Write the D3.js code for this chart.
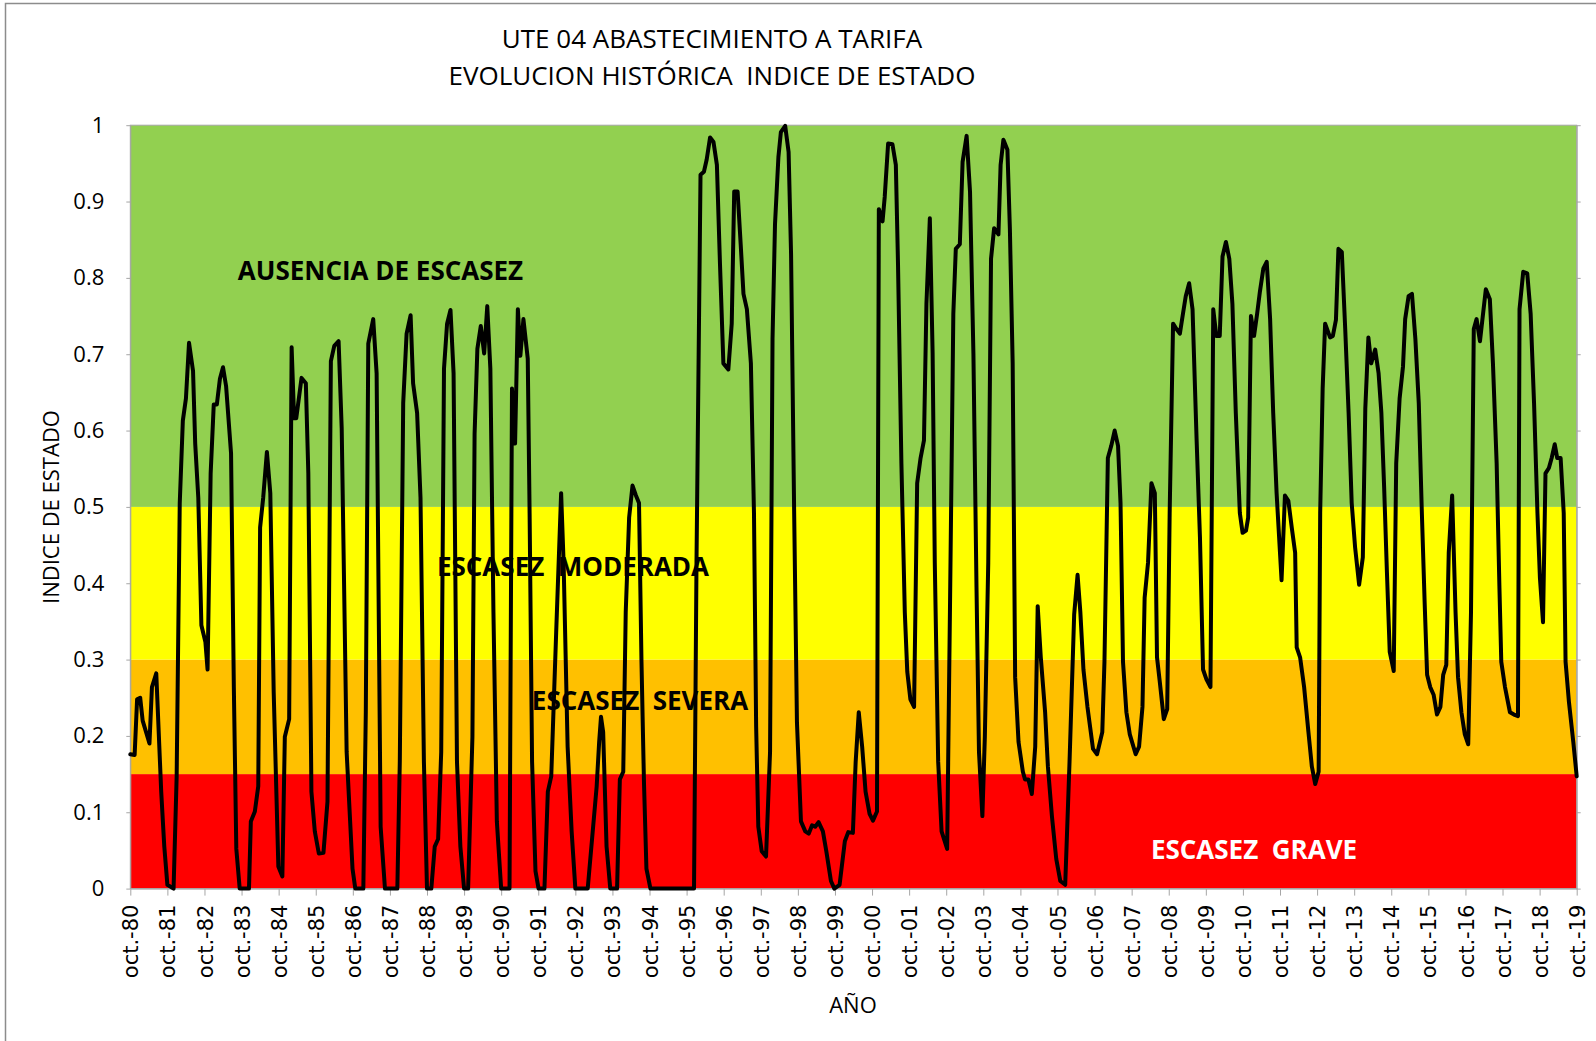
<!DOCTYPE html>
<html>
<head>
<meta charset="utf-8">
<script src="https://cdn.jsdelivr.net/npm/d3@7"></script>
<style>
  body { margin: 0; background: #fff; }
  text { white-space: pre; }
</style>
</head>
<body>
<svg id="chart" width="1596" height="1041"></svg>
<script>
// ---------------- DATA ----------------
const titleLines = ["UTE 04 ABASTECIMIENTO A TARIFA", "EVOLUCION HISTÓRICA  INDICE DE ESTADO"];
const yAxisTitle = "INDICE DE ESTADO";
const xAxisTitle = "AÑO";

const tickLabels = ["oct.-80","oct.-81","oct.-82","oct.-83","oct.-84","oct.-85","oct.-86","oct.-87","oct.-88","oct.-89",
  "oct.-90","oct.-91","oct.-92","oct.-93","oct.-94","oct.-95","oct.-96","oct.-97","oct.-98","oct.-99",
  "oct.-00","oct.-01","oct.-02","oct.-03","oct.-04","oct.-05","oct.-06","oct.-07","oct.-08","oct.-09",
  "oct.-10","oct.-11","oct.-12","oct.-13","oct.-14","oct.-15","oct.-16","oct.-17","oct.-18","oct.-19"];

const yTickValues = [0, 0.1, 0.2, 0.3, 0.4, 0.5, 0.6, 0.7, 0.8, 0.9, 1];

const bandLower = [0, 0.15, 0.3, 0.5];
const bandUpper = [0.15, 0.3, 0.5, 1];
const bandColors = ["#FF0000", "#FFC000", "#FFFF00", "#92D050"];
const bandNames = ["ESCASEZ  GRAVE", "ESCASEZ  SEVERA", "ESCASEZ  MODERADA", "AUSENCIA DE ESCASEZ"];

// months elapsed since oct-1980
const monthOffsets = [
  0,1.4,2.2,3.2,4,6.2,7,8.4,10,11,12,14,15,16,17,18,19,20.3,21,22,23,24.3,25,26,27,28,29,30,31,32.6,33.5,34.3,35.4,38.4,
  39,40.3,41.4,42,43,44.2,45.3,46.4,47.9,49.2,50,51.4,52.2,53,53.7,55.4,56.8,57.6,58.6,59.7,61,62.5,63.8,64.9,66,67.4,68.4,
  70,71.9,72.8,75.4,76.2,77,78.6,
  79.7,81,82.4,86.4,87.2,88.3,89.4,90.7,91.5,92.8,93.9,95,96,97.4,98.5,99.6,100.6,101.5,102.5,103.6,104.6,105.7,106.8,108,
  109.3,110.7,111.4,112.3,113.4,114.5,115.5,116.5,117.5,118.6,120,122.7,123.5,124.5,125.4,126.2,127.2,128.6,129.2,130,
  131.1,132.1,134,135.1,136.2,137.8,139.4,140.2,141.5,142.8,144,148,150.9,151.7,152.3,153,154.1,155.3,
  157.5,158.4,159.5,160.3,161.4,162.5,163.6,164.6,165.4,166.2,167,168.3,182.4,183.2,184.5,185.6,186.5,187.6,188.7,189.8,
  190.8,191.9,193.5,194.6,195.4,196.5,197.5,198.4,199.5,200.8,201.8,202.5,203.2,204.3,205.7,207,207.8,208.6,209.7,210.5,
  211.9,213,213.8,214.8,215.7,217,218.4,219.5,220.6,221.6,222.7,224.1,225.2,226.7,227.8,229.5,231.2,
  232.3,233.8,234.7,235.7,236.8,237.9,239.2,240.3,241.6,242.2,243.4,244.1,245.2,246.6,247.7,248.4,249.5,250.6,251.4,252.4,
  253.6,254.6,255.7,256.8,257.6,258.7,259.6,260.3,261.4,262.5,264.3,265.2,266.3,267.1,268.4,269.3,270.6,271.7,272.8,273.8,
  274.6,275.7,276.5,277.6,278.5,279.5,280.9,281.6,282.5,283.8,284.6,285.5,286.3,287.4,288.8,289.5,290.6,291.7,292.8,293.6,
  294.6,296,296.9,298.2,299.6,300.9,302.5,303.9,305.4,306.5,307.4,308.4,309.7,311.5,312.8,
  314.5,315.2,316.3,317.4,318.5,319.6,320.4,321.2,322.3,323.4,325.3,326.4,327.5,328.2,329.3,330.4,331.5,332.2,333.1,334.4,
  335.5,336.3,337.4,338.5,339.6,340.6,341.5,342.6,343.7,345,346.1,347.1,348.2,349.5,350.4,351.4,352.5,353.4,354.5,355.6,
  356.6,357.7,359,359.9,361,361.7,362.6,363.6,364.6,365.5,366.6,367.7,368.8,369.8,370.9,372.5,373.6,374.7,375.8,376.9,
  377.4,378.5,379.8,381.2,382.3,383.4,384.5,385,385.8,386.6,388.2,389.1,390.1,390.9,392,393.1,394.2,395.2,396.3,397.6,
  398.8,399.6,400.6,401.5,402.8,403.9,404.8,405.7,406.6,407.5,408.8,409.6,410.7,411.8,412.5,413.6,414.7,415.8,416.9,417.9,
  418.8,419.6,420.6,421.7,422.8,423.9,424.8,425.8,426.6,427.7,428.8,429.6,430.7,431.8,432.9,433.8,434.7,435.6,436.7,437.7,
  438.6,439.9,440.9,442.1,443,443.6,444.8,446.4,447.7,449,449.5,450.7,452,453.1,454.2,455.3,456.1,457.1,457.9,459,
  459.9,460.9,461.7,462.8,463.8,464.4,465.5,466.9,468
];

const indexValues = [
  0.176,0.175,0.248,0.25,0.22,0.19,0.264,0.282,0.127,0.055,0.005,0,0.147,0.505,0.613,0.642,0.715,0.678,0.583,0.512,0.345,0.323,0.287,0.544,0.634,0.634,0.668,0.683,0.658,0.57,0.264,0.052,0,0,
  0.088,0.101,0.134,0.473,0.512,0.572,0.518,0.257,0.029,0.016,0.199,0.222,0.709,0.616,0.616,0.669,0.662,0.544,0.127,0.075,0.046,0.047,0.114,0.691,0.711,0.717,0.603,
  0.179,0.026,0,0,0.231,0.714,0.746,
  0.675,0.081,0,0,0.166,0.636,0.727,0.751,0.662,0.623,0.512,0.166,0,0,0.055,0.065,0.179,0.681,0.74,0.758,0.675,0.166,0.055,0,
  0,0.199,0.596,0.707,0.737,0.701,0.763,0.681,0.362,0.088,0,0,0.655,0.583,0.759,0.698,0.746,0.694,0.492,0.166,
  0.023,0,0,0.127,0.147,0.336,0.518,0.427,0.186,0.075,0,0,0.134,0.192,0.225,0.205,0.055,0,
  0,0.143,0.153,0.362,0.486,0.528,0.515,0.505,0.297,0.14,0.026,0,0,0.427,0.935,0.939,0.955,0.984,0.978,0.948,
  0.818,0.688,0.68,0.74,0.913,0.913,0.844,0.779,0.759,0.688,0.492,0.212,0.081,0.049,0.042,0.179,0.72,0.87,0.958,0.991,
  0.999,0.965,0.831,0.492,0.218,0.088,0.075,0.072,0.083,0.081,0.087,0.075,0.049,0.01,0,0.005,0.062,
  0.074,0.073,0.166,0.231,0.186,0.127,0.098,0.089,0.101,0.89,0.874,0.906,0.976,0.975,0.948,0.818,0.557,0.362,0.284,0.248,
  0.238,0.531,0.564,0.587,0.766,0.878,0.701,0.427,0.166,0.075,0.052,0.362,0.753,0.838,0.844,0.952,0.986,0.913,0.701,0.394,
  0.179,0.095,0.199,0.427,0.825,0.865,0.857,0.948,0.981,0.968,0.864,0.688,0.277,0.192,0.153,0.143,0.143,0.124,0.186,0.37,
  0.303,0.231,0.16,0.095,0.039,0.01,0.005,0.166,0.359,0.411,0.362,0.287,0.238,0.183,0.176,
  0.205,0.297,0.564,0.58,0.6,0.58,0.505,0.297,0.231,0.202,0.176,0.186,0.238,0.381,0.427,0.531,0.518,0.303,0.271,0.222,
  0.235,0.492,0.74,0.733,0.727,0.753,0.776,0.793,0.759,0.59,0.46,0.287,0.274,0.264,0.759,0.724,0.724,0.828,0.847,0.825,
  0.766,0.623,0.492,0.466,0.469,0.486,0.75,0.724,0.753,0.782,0.812,0.821,0.746,0.623,0.518,0.404,0.515,0.508,0.473,0.44,
  0.316,0.303,0.264,0.205,0.16,0.137,0.153,0.492,0.655,0.74,0.722,0.724,0.745,0.838,0.834,0.733,0.623,0.505,0.447,0.398,
  0.434,0.629,0.722,0.688,0.706,0.675,0.623,0.525,0.414,0.31,0.285,0.557,0.642,0.684,0.746,0.776,0.779,0.72,0.636,0.492,
  0.375,0.28,0.264,0.254,0.228,0.238,0.28,0.293,0.44,0.515,0.362,0.277,0.231,0.202,0.189,0.362,0.733,0.746,0.717,0.753,
  0.785,0.772,0.688,0.557,0.394,0.297,0.264,0.231,0.228,0.226,0.759,0.808,0.806,0.753,0.636,0.492,0.407,0.349,0.544,0.551,
  0.564,0.582,0.564,0.564,0.492,0.297,0.244,0.192,0.147
];

// ---------------- LAYOUT ----------------
const W = 1596, H = 1041;
const plot = { left: 130.3, right: 1576.7, top: 125.2, bottom: 888.6 };
const bandLabelPos = [
  { x: 1254, y: 859, fill: "#FFFFFF" },
  { x: 640, y: 710, fill: "#000000" },
  { x: 573, y: 576, fill: "#000000" },
  { x: 380.5, y: 280, fill: "#000000" }
];
const axisGray = "#A6A6A6";

const svg = d3.select("#chart");

// outer chart border
svg.append("rect")
  .attr("x", 5.5).attr("y", 3.5)
  .attr("width", W + 20).attr("height", H + 20)
  .attr("fill", "#fff").attr("stroke", "#8C8C8C").attr("stroke-width", 1.5);

const x = d3.scaleLinear().domain([0, 468]).range([plot.left, plot.right]);
const y = d3.scaleLinear().domain([0, 1]).range([plot.bottom, plot.top]);

// bands
const bands = bandLower.map((lo, i) => ({ lo, hi: bandUpper[i], color: bandColors[i], name: bandNames[i] }));
svg.append("g").selectAll("rect").data(bands).join("rect")
  .attr("x", x(0)).attr("width", x(468) - x(0))
  .attr("y", d => y(d.hi)).attr("height", d => y(d.lo) - y(d.hi))
  .attr("fill", d => d.color);

// band labels
svg.append("g").selectAll("text").data(bands).join("text")
  .attr("x", (d, i) => bandLabelPos[i].x)
  .attr("y", (d, i) => bandLabelPos[i].y)
  .attr("text-anchor", "middle")
  .attr("font-family", "'Open Sans', sans-serif")
  .attr("font-weight", "bold")
  .attr("font-size", 26)
  .attr("fill", (d, i) => bandLabelPos[i].fill)
  .text(d => d.name);

// plot border
svg.append("rect")
  .attr("x", plot.left).attr("y", plot.top)
  .attr("width", plot.right - plot.left).attr("height", plot.bottom - plot.top)
  .attr("fill", "none").attr("stroke", axisGray).attr("stroke-width", 1);

// left axis
const yAxis = svg.append("g")
  .attr("transform", `translate(${plot.left},0)`)
  .call(d3.axisLeft(y).tickValues(yTickValues).tickFormat(d => String(d)).tickSize(4).tickSizeOuter(0).tickPadding(22));
yAxis.selectAll("path, line").attr("stroke", axisGray);
yAxis.selectAll("text")
  .attr("font-family", "'Open Sans', sans-serif").attr("font-size", 22).attr("fill", "#000");

// right ticks (no labels)
const yAxisR = svg.append("g")
  .attr("transform", `translate(${plot.right},0)`)
  .call(d3.axisRight(y).tickValues(yTickValues).tickFormat("").tickSize(4).tickSizeOuter(0));
yAxisR.selectAll("path, line").attr("stroke", axisGray);

// bottom axis
const xAxis = svg.append("g")
  .attr("transform", `translate(0,${plot.bottom})`)
  .call(d3.axisBottom(x).tickValues(d3.range(0, 469, 12)).tickFormat((d, i) => tickLabels[i]).tickSize(7).tickSizeOuter(0));
xAxis.selectAll("path, line").attr("stroke", axisGray);
xAxis.selectAll("text")
  .attr("font-family", "'DejaVu Sans', sans-serif").attr("font-size", 21).attr("fill", "#000")
  .attr("transform", "rotate(-90)")
  .attr("x", -16).attr("y", 0).attr("dy", "0.36em")
  .attr("text-anchor", "end");

// line series
const points = monthOffsets.map((m, i) => [m, indexValues[i]]);
svg.append("path")
  .datum(points)
  .attr("fill", "none")
  .attr("stroke", "#000")
  .attr("stroke-width", 4)
  .attr("stroke-linejoin", "round")
  .attr("stroke-linecap", "round")
  .attr("d", d3.line().x(d => x(d[0])).y(d => y(d[1])));

// titles
svg.append("g").selectAll("text").data(titleLines).join("text")
  .attr("x", 712)
  .attr("y", (d, i) => 48 + i * 36.5)
  .attr("text-anchor", "middle")
  .attr("font-family", "'Open Sans', sans-serif")
  .attr("font-size", 26)
  .attr("fill", "#000")
  .text(d => d);

svg.append("text")
  .attr("transform", "translate(59,507) rotate(-90)")
  .attr("text-anchor", "middle")
  .attr("font-family", "'Open Sans', sans-serif")
  .attr("font-size", 22)
  .attr("fill", "#000")
  .text(yAxisTitle);

svg.append("text")
  .attr("x", 853).attr("y", 1013)
  .attr("text-anchor", "middle")
  .attr("font-family", "'Open Sans', sans-serif")
  .attr("font-size", 22)
  .attr("fill", "#000")
  .text(xAxisTitle);
</script>
</body>
</html>
